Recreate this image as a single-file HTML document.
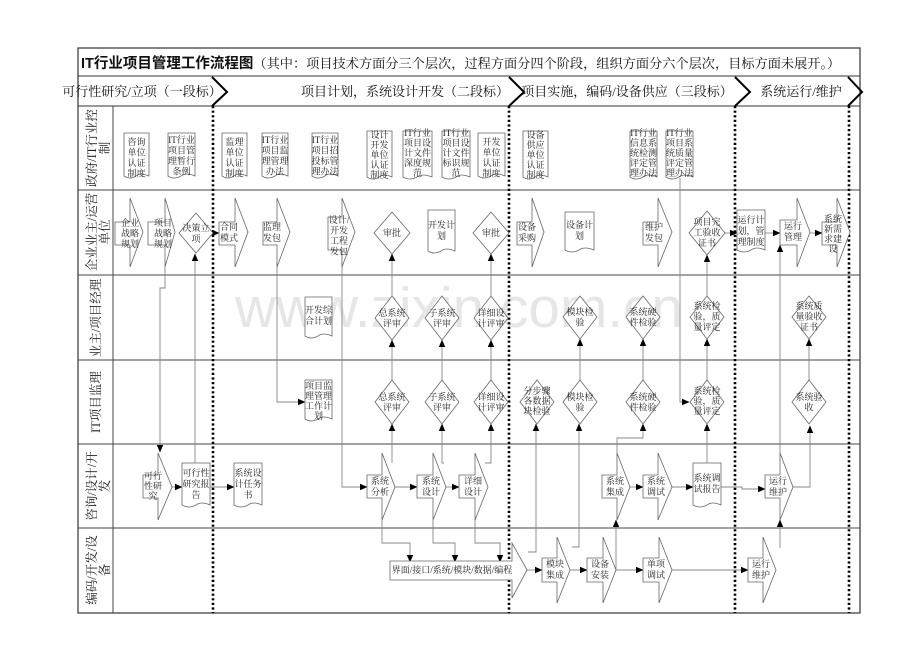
<!DOCTYPE html>
<html><head><meta charset="utf-8"><style>
html,body{margin:0;padding:0;background:#fff;}
svg{display:block;}
.t{font-family:"Liberation Serif","Noto Serif CJK SC",serif;font-size:9px;fill:#222;text-anchor:middle;}
.h{font-family:"Liberation Serif","Noto Serif CJK SC",serif;font-size:13px;fill:#111;text-anchor:middle;}
.l{font-family:"Liberation Serif","Noto Serif CJK SC",serif;font-size:12.5px;fill:#222;text-anchor:middle;}
.s{fill:#fff;stroke:#666;stroke-width:0.8;}
.c{fill:none;stroke:#888;stroke-width:0.9;}
.ca{fill:none;stroke:#888;stroke-width:0.9;marker-end:url(#ah);}
.dot{stroke:#000;stroke-width:2.6;stroke-dasharray:2.2,2.4;}
</style></head><body>
<svg width="920" height="651" viewBox="0 0 920 651" xmlns="http://www.w3.org/2000/svg">
<defs><marker id="ah" markerWidth="8" markerHeight="8" refX="7" refY="4" orient="auto" markerUnits="userSpaceOnUse"><path d="M0,0.8 L7.5,4 L0,7.2 Z" fill="#000"/></marker></defs>
<rect width="920" height="651" fill="#fff"/>
<text x="235" y="327" font-family="Liberation Sans,sans-serif" font-size="57" fill="#e6e6e6" textLength="448" lengthAdjust="spacingAndGlyphs">www.zixin.com.cn</text>

<rect x="78" y="48" width="782" height="565" fill="none" stroke="#333" stroke-width="1.2"/>
<line x1="78" y1="76" x2="860" y2="76" stroke="#333"/>
<line x1="78" y1="106" x2="860" y2="106" stroke="#333"/>
<g stroke="#444" stroke-width="1">
<line x1="78" y1="190" x2="860" y2="190"/><line x1="78" y1="275" x2="860" y2="275"/>
<line x1="78" y1="360" x2="860" y2="360"/><line x1="78" y1="444" x2="860" y2="444"/>
<line x1="78" y1="528" x2="860" y2="528"/>
<line x1="113" y1="106" x2="113" y2="613"/>
</g>
<text x="81" y="68" font-family="Liberation Sans,'Noto Sans CJK SC',sans-serif" font-size="14.5" font-weight="bold" fill="#111">IT行业项目管理工作流程图<tspan font-family="Liberation Serif,'Noto Serif CJK SC',serif" font-weight="normal" font-size="13.2">（其中：项目技术方面分三个层次，过程方面分四个阶段，组织方面分六个层次，目标方面未展开。）</tspan></text>

<text class="h" x="142" y="96">可行性研究/立项（一段标）</text>
<text class="h" x="405" y="96">项目计划，系统设计开发（二段标）</text>
<text class="h" x="627" y="96">项目实施，编码/设备供应（三段标）</text>
<text class="h" x="801" y="96">系统运行/维护</text>
<g fill="none" stroke="#000" stroke-width="2">
<polyline points="212,77 227,92 212,106"/><polyline points="509,77 524,92 509,106"/>
<polyline points="735,77 750,92 735,106"/><polyline points="848,77 862,92 848,106"/>
</g>
<g class="dot"><line x1="213" y1="106" x2="213" y2="613"/><line x1="509" y1="106" x2="509" y2="613"/><line x1="735" y1="106" x2="735" y2="613"/><line x1="849" y1="106" x2="849" y2="613"/></g>

<g transform="translate(0,148) rotate(-90)"><text class="l" x="0" y="96">政府/IT行业控</text><text class="l" x="0" y="109">制</text></g>
<g transform="translate(0,232) rotate(-90)"><text class="l" x="0" y="96">企业业主/运营</text><text class="l" x="0" y="109">单位</text></g>
<g transform="translate(0,318) rotate(-90)"><text class="l" x="0" y="100">业主/项目经理</text></g>
<g transform="translate(0,402) rotate(-90)"><text class="l" x="0" y="100">IT项目监理</text></g>
<g transform="translate(0,486) rotate(-90)"><text class="l" x="0" y="96">咨询/设计/开</text><text class="l" x="0" y="109">发</text></g>
<g transform="translate(0,570) rotate(-90)"><text class="l" x="0" y="96">编码/开发/设</text><text class="l" x="0" y="109">备</text></g>

<polyline class="ca" points="165,267 165,288 160,288 160,452"/>
<polyline class="ca" points="172,487 182,487"/>
<polyline class="ca" points="195,463 195,254"/>
<polyline class="ca" points="210,487 234,487"/>
<polyline class="ca" points="212,233 219,233"/>
<polyline class="ca" points="277,262 277,402 305,402"/>
<polyline class="ca" points="342,250 342,487 367,487"/>
<polyline class="ca" points="395,487 417,487"/>
<polyline class="ca" points="446,487 459,487"/>
<polyline class="ca" points="392,463 392,424"/><polyline class="ca" points="392,380 392,340"/><polyline class="ca" points="392,296 392,254"/>
<polyline class="ca" points="444,463 442,463 442,424"/><polyline class="ca" points="442,380 442,340"/>
<polyline class="ca" points="485,463 491,463 491,424"/><polyline class="ca" points="491,380 491,340"/><polyline class="ca" points="491,296 491,254"/>
<polyline class="ca" points="382,520 382,543 410,543 410,562"/>
<polyline class="ca" points="433,520 433,543 455,543 455,562"/>
<polyline class="ca" points="475,520 475,543 500,543 500,562"/>
<polyline class="ca" points="527,570 542,570"/>
<polyline class="ca" points="528,552 536,552 536,424"/>
<polyline class="ca" points="572,547 579,547 579,424"/><polyline class="ca" points="580,380 580,339"/>
<polyline class="ca" points="570,570 587,570"/>
<polyline class="ca" points="616,570 616,520"/>
<polyline class="ca" points="616,570 643,570"/>
<polyline class="ca" points="617,453 617,438 643,438 643,424"/><polyline class="ca" points="643,380 643,339"/>
<polyline class="ca" points="630,487 643,487"/>
<polyline class="ca" points="672,487 693,487"/>
<polyline class="ca" points="707,463 707,424"/><polyline class="ca" points="707,380 707,339"/><polyline class="ca" points="707,296 707,255"/>
<polyline class="ca" points="721,487 742,487 742,489 765,489"/>
<polyline class="ca" points="672,570 748,570"/>
<polyline class="ca" points="780,548 780,520"/>
<polyline class="ca" points="780,453 780,245"/>
<polyline class="ca" points="793,487 810,487 810,426"/><polyline class="ca" points="809,380 809,339"/>
<polyline class="ca" points="725,233 737,233"/>
<polyline class="ca" points="765,233 780,233"/>
<polyline class="ca" points="810,233 822,233"/>
<polyline class="ca" points="680,178 680,402 689,402"/>

<g class="s">
<path d="M124,133 H149 V176 Q140,172 136,176 Q130,180 124,176 Z"/>
<path d="M168,133 H195 V176 Q186,172 181,176 Q174,180 168,176 Z"/>
<path d="M222,133 H247 V176 Q238,172 234,176 Q228,180 222,176 Z"/>
<path d="M262,133 H288 V176 Q279,172 275,176 Q268,180 262,176 Z"/>
<path d="M312,133 H338 V176 Q329,172 325,176 Q318,180 312,176 Z"/>
<path d="M367,131 H392 V177 Q383,173 379,177 Q373,181 367,177 Z"/>
<path d="M403,131 H432 V177 Q422,173 417,177 Q410,181 403,177 Z"/>
<path d="M442,131 H470 V177 Q460,173 456,177 Q449,181 442,177 Z"/>
<path d="M478,133 H505 V176 Q496,172 491,176 Q484,180 478,176 Z"/>
<path d="M523,131 H548 V177 Q539,173 535,177 Q529,181 523,177 Z"/>
<path d="M630,131 H657 V177 Q648,173 643,177 Q636,181 630,177 Z"/>
<path d="M666,131 H693 V177 Q684,173 679,177 Q672,181 666,177 Z"/>
</g>
<text class="t" x="136.5" y="145">咨询<tspan x="136.5" dy="10.5">单位</tspan><tspan x="136.5" dy="10.5">认证</tspan><tspan x="136.5" dy="10.5">制度</tspan></text>
<text class="t" x="181.5" y="143">IT行业<tspan x="181.5" dy="10.5">项目管</tspan><tspan x="181.5" dy="10.5">理暂行</tspan><tspan x="181.5" dy="10.5">条例</tspan></text>
<text class="t" x="234.5" y="145">监理<tspan x="234.5" dy="10.5">单位</tspan><tspan x="234.5" dy="10.5">认证</tspan><tspan x="234.5" dy="10.5">制度</tspan></text>
<text class="t" x="275" y="143">IT行业<tspan x="275" dy="10.5">项目监</tspan><tspan x="275" dy="10.5">理管理</tspan><tspan x="275" dy="10.5">办法</tspan></text>
<text class="t" x="325" y="143">IT行业<tspan x="325" dy="10.5">项目招</tspan><tspan x="325" dy="10.5">投标管</tspan><tspan x="325" dy="10.5">理办法</tspan></text>
<text class="t" x="379.5" y="138">设计<tspan x="379.5" dy="10">开发</tspan><tspan x="379.5" dy="10">单位</tspan><tspan x="379.5" dy="10">认证</tspan><tspan x="379.5" dy="10">制度</tspan></text>
<text class="t" x="417.5" y="136">IT行业<tspan x="417.5" dy="10">项目设</tspan><tspan x="417.5" dy="10">计文件</tspan><tspan x="417.5" dy="10">深度规</tspan><tspan x="417.5" dy="10">范</tspan></text>
<text class="t" x="456" y="136">IT行业<tspan x="456" dy="10">项目设</tspan><tspan x="456" dy="10">计文件</tspan><tspan x="456" dy="10">标识规</tspan><tspan x="456" dy="10">范</tspan></text>
<text class="t" x="491.5" y="145">开发<tspan x="491.5" dy="10.5">单位</tspan><tspan x="491.5" dy="10.5">认证</tspan><tspan x="491.5" dy="10.5">制度</tspan></text>
<text class="t" x="535.5" y="138">设备<tspan x="535.5" dy="10">供应</tspan><tspan x="535.5" dy="10">单位</tspan><tspan x="535.5" dy="10">认证</tspan><tspan x="535.5" dy="10">制度</tspan></text>
<text class="t" x="643.5" y="136">IT行业<tspan x="643.5" dy="10">信息系</tspan><tspan x="643.5" dy="10">统检测</tspan><tspan x="643.5" dy="10">评定管</tspan><tspan x="643.5" dy="10">理办法</tspan></text>
<text class="t" x="679.5" y="136">IT行业<tspan x="679.5" dy="10">项目系</tspan><tspan x="679.5" dy="10">统质量</tspan><tspan x="679.5" dy="10">评定管</tspan><tspan x="679.5" dy="10">理办法</tspan></text>

<g class="s">
<polygon points="115,222 130,222 130,198 143,232 130,267 130,245 115,245"/>
<polygon points="148,222 165,222 165,198 175,232 165,267 165,245 148,245"/>
<polygon points="196,213 213,233 196,253 179,233"/>
<polygon points="219,222 235,222 235,198 248,232 235,267 235,245 219,245"/>
<polygon points="263,222 277,222 277,198 290,232 277,267 277,245 263,245"/>
<polygon points="328,217 342,217 342,198 355,232 342,267 342,250 328,250"/>
<polygon points="392,212 410,233 392,254 374,233"/>
<path d="M428,210 H455 V251 Q446,247 441,251 Q434,255 428,251 Z"/>
<polygon points="491,212 509,233 491,254 473,233"/>
<polygon points="517,222 532,222 532,198 544,232 532,267 532,245 517,245"/>
<path d="M565,212 H594 V250 Q584,246 579,250 Q572,254 565,250 Z"/>
<polygon points="643,222 658,222 658,198 672,232 658,267 658,245 643,245"/>
<polygon points="707,211 725,233 707,255 689,233"/>
<path d="M737,210 H765 V250 Q756,246 751,250 Q744,254 737,250 Z"/>
<polygon points="780,220 797,220 797,198 810,232 797,267 797,245 780,245"/>
<polygon points="822,222 837,222 837,198 850,232 837,267 837,245 822,245"/>
</g>
<text class="t" x="130" y="226">企业<tspan x="130" dy="10.5">战略</tspan><tspan x="130" dy="10.5">规划</tspan></text>
<text class="t" x="163" y="226">项目<tspan x="163" dy="10.5">战略</tspan><tspan x="163" dy="10.5">规划</tspan></text>
<text class="t" x="196" y="231">决策立<tspan x="196" dy="11">项</tspan></text>
<text class="t" x="229" y="230">合同<tspan x="229" dy="11">模式</tspan></text>
<text class="t" x="272" y="230">监理<tspan x="272" dy="11">发包</tspan></text>
<text class="t" x="339" y="223">设计/<tspan x="339" dy="10.5">开发</tspan><tspan x="339" dy="10.5">工程</tspan><tspan x="339" dy="10.5">发包</tspan></text>
<text class="t" x="392" y="236">审批</text>
<text class="t" x="441.5" y="228">开发计<tspan x="441.5" dy="11">划</tspan></text>
<text class="t" x="491" y="236">审批</text>
<text class="t" x="527" y="230">设备<tspan x="527" dy="11">采购</tspan></text>
<text class="t" x="579.5" y="228">设备计<tspan x="579.5" dy="11">划</tspan></text>
<text class="t" x="654" y="230">维护<tspan x="654" dy="11">发包</tspan></text>
<text class="t" x="707" y="225">项目完<tspan x="707" dy="10.5">工验收</tspan><tspan x="707" dy="10.5">证书</tspan></text>
<text class="t" x="751" y="223">运行计<tspan x="751" dy="11">划，管</tspan><tspan x="751" dy="11">理制度</tspan></text>
<text class="t" x="793" y="229">运行<tspan x="793" dy="11">管理</tspan></text>
<text class="t" x="833" y="222">系统<tspan x="833" dy="10">新需</tspan><tspan x="833" dy="10">求建</tspan><tspan x="833" dy="10">设</tspan></text>

<g class="s">
<path d="M305,297 H332 V336 Q323,332 318,336 Q311,340 305,336 Z"/>
<polygon points="392,296 409,318 392,340 375,318"/>
<polygon points="442,296 459,318 442,340 425,318"/>
<polygon points="491,296 508,318 491,340 474,318"/>
<polygon points="580,296 597,317 580,339 563,317"/>
<polygon points="643,296 660,317 643,339 626,317"/>
<polygon points="707,296 724,317 707,339 690,317"/>
<polygon points="809,296 826,317 809,339 792,317"/>
</g>
<text class="t" x="318.5" y="313">开发综<tspan x="318.5" dy="11">合计划</tspan></text>
<text class="t" x="392" y="316">总系统<tspan x="392" dy="10.5">评审</tspan></text>
<text class="t" x="442" y="316">子系统<tspan x="442" dy="10.5">评审</tspan></text>
<text class="t" x="491" y="316">详细设<tspan x="491" dy="10.5">计评审</tspan></text>
<text class="t" x="580" y="315">模块检<tspan x="580" dy="10.5">验</tspan></text>
<text class="t" x="643" y="315">系统硬<tspan x="643" dy="10.5">件检验</tspan></text>
<text class="t" x="707" y="309">系统检<tspan x="707" dy="10.5">验，质</tspan><tspan x="707" dy="10.5">量评定</tspan></text>
<text class="t" x="809" y="309">系统质<tspan x="809" dy="10.5">量验收</tspan><tspan x="809" dy="10.5">证书</tspan></text>

<g class="s">
<path d="M305,380 H332 V419 Q323,415 318,419 Q311,423 305,419 Z"/>
<polygon points="392,380 409,402 392,424 375,402"/>
<polygon points="442,380 459,402 442,424 425,402"/>
<polygon points="491,380 508,402 491,424 474,402"/>
<polygon points="537,380 554,402 537,424 520,402"/>
<polygon points="580,380 597,402 580,424 563,402"/>
<polygon points="643,380 660,402 643,424 626,402"/>
<polygon points="707,380 724,402 707,424 690,402"/>
<polygon points="809,380 826,402 809,424 792,402"/>
</g>
<text class="t" x="318.5" y="389">项目监<tspan x="318.5" dy="10">理管理</tspan><tspan x="318.5" dy="10">工作计</tspan><tspan x="318.5" dy="10">划</tspan></text>
<text class="t" x="392" y="400">总系统<tspan x="392" dy="10.5">评审</tspan></text>
<text class="t" x="442" y="400">子系统<tspan x="442" dy="10.5">评审</tspan></text>
<text class="t" x="491" y="400">详细设<tspan x="491" dy="10.5">计评审</tspan></text>
<text class="t" x="537" y="394">分步骤<tspan x="537" dy="10">各数据</tspan><tspan x="537" dy="10">块检验</tspan></text>
<text class="t" x="580" y="400">模块检<tspan x="580" dy="10.5">验</tspan></text>
<text class="t" x="643" y="400">系统硬<tspan x="643" dy="10.5">件检验</tspan></text>
<text class="t" x="707" y="394">系统检<tspan x="707" dy="10">验，质</tspan><tspan x="707" dy="10">量评定</tspan></text>
<text class="t" x="809" y="400">系统验<tspan x="809" dy="10.5">收</tspan></text>

<g class="s">
<polygon points="143,475 158,475 158,453 172,487 158,520 158,498 143,498"/>
<path d="M182,463 H210 V505 Q201,501 196,505 Q189,509 182,505 Z"/>
<path d="M234,463 H262 V505 Q253,501 248,505 Q241,509 234,505 Z"/>
<polygon points="367,475 382,475 382,453 395,487 382,520 382,498 367,498"/>
<polygon points="417,475 433,475 433,453 446,487 433,520 433,498 417,498"/>
<polygon points="459,475 475,475 475,453 488,487 475,520 475,498 459,498"/>
<polygon points="602,475 617,475 617,453 630,487 617,520 617,498 602,498"/>
<polygon points="643,475 658,475 658,453 672,487 658,520 658,498 643,498"/>
<path d="M693,463 H721 V505 Q712,501 707,505 Q700,509 693,505 Z"/>
<polygon points="765,475 780,475 780,453 793,487 780,520 780,498 765,498"/>
</g>
<text class="t" x="153" y="479">可行<tspan x="153" dy="10">性研</tspan><tspan x="153" dy="10">究</tspan></text>
<text class="t" x="196" y="476">可行性<tspan x="196" dy="11">研究报</tspan><tspan x="196" dy="11">告</tspan></text>
<text class="t" x="248" y="476">系统设<tspan x="248" dy="11">计任务</tspan><tspan x="248" dy="11">书</tspan></text>
<text class="t" x="380" y="484">系统<tspan x="380" dy="11">分析</tspan></text>
<text class="t" x="431" y="484">系统<tspan x="431" dy="11">设计</tspan></text>
<text class="t" x="473" y="484">详细<tspan x="473" dy="11">设计</tspan></text>
<text class="t" x="615" y="484">系统<tspan x="615" dy="11">集成</tspan></text>
<text class="t" x="656" y="484">系统<tspan x="656" dy="11">调试</tspan></text>
<text class="t" x="707" y="481">系统调<tspan x="707" dy="11">试报告</tspan></text>
<text class="t" x="778" y="484">运行<tspan x="778" dy="11">维护</tspan></text>

<g class="s">
<polygon points="390,561 512,561 512,543 527,570 512,598 512,580 390,580"/>
<polygon points="542,558 557,558 557,537 570,570 557,603 557,582 542,582"/>
<polygon points="587,558 603,558 603,537 616,570 603,603 603,582 587,582"/>
<polygon points="643,558 659,558 659,537 672,570 659,603 659,582 643,582"/>
<polygon points="748,558 763,558 763,537 776,570 763,603 763,582 748,582"/>
</g>
<text class="t" x="452" y="573">界面/接口/系统/模块/数据/编程</text>
<text class="t" x="555" y="567">模块<tspan x="555" dy="11">集成</tspan></text>
<text class="t" x="600" y="567">设备<tspan x="600" dy="11">安装</tspan></text>
<text class="t" x="656" y="567">单项<tspan x="656" dy="11">调试</tspan></text>
<text class="t" x="761" y="567">运行<tspan x="761" dy="11">维护</tspan></text>
</svg>
</body></html>
